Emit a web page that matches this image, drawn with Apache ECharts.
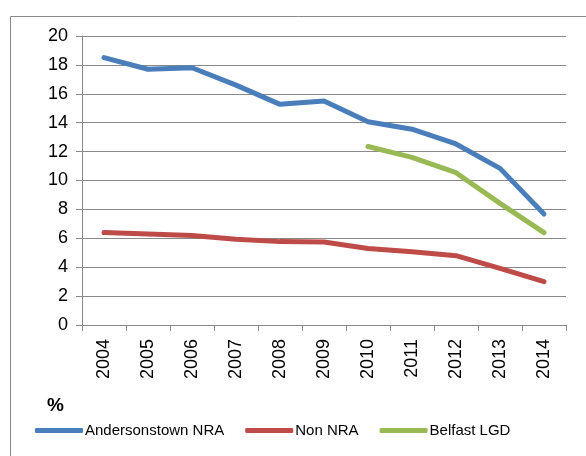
<!DOCTYPE html>
<html>
<head>
<meta charset="utf-8">
<script src="https://cdn.jsdelivr.net/npm/echarts@6/dist/echarts.min.js"></script>
<style>
html,body{margin:0;padding:0;background:#fff;}
#c{width:586px;height:456px;}
</style>
</head>
<body>
<div id="c"></div>
<script>
var years = ['2004','2005','2006','2007','2008','2009','2010','2011','2012','2013','2014'];
var andersonstown = [18.5, 17.7, 17.8, 16.6, 15.27, 15.5, 14.07, 13.55, 12.53, 10.84, 7.68];
var nonNRA = [6.4, 6.3, 6.2, 5.93, 5.77, 5.74, 5.3, 5.07, 4.8, 3.92, 3.0];
var belfastLGD = [null, null, null, null, null, null, 12.35, 11.6, 10.54, 8.42, 6.39];

var FONT = 'Liberation Sans';
var chart = echarts.init(document.getElementById('c'), null, {renderer:'canvas'});
function mk(name, data, color){
  return {
    name: name, type: 'line', data: data, symbol: 'none', connectNulls: false,
    lineStyle: {width: 5, color: color, cap: 'round', join: 'round'},
    itemStyle: {color: color},
    animation: false
  };
}
chart.setOption({
  animation: false,
  backgroundColor: '#fff',
  grid: {left: 82, right: 20, top: 36, bottom: 131, containLabel: false},
  xAxis: {
    type: 'category', data: years, boundaryGap: true,
    axisLine: {lineStyle: {color: '#888', width: 1}},
    axisTick: {show: true, length: 6, lineStyle: {color: '#888'}},
    axisLabel: {rotate: 90, margin: 14, color: '#000', fontFamily: FONT, fontSize: 18}
  },
  yAxis: {
    type: 'value', min: 0, max: 20, interval: 2,
    axisLine: {show: true, lineStyle: {color: '#888', width: 1}},
    axisTick: {show: true, length: 6, lineStyle: {color: '#888'}},
    axisLabel: {margin: 14, color: '#000', fontFamily: FONT, fontSize: 18},
    splitLine: {lineStyle: {color: '#888', width: 1}}
  },
  legend: {
    left: 30, top: 418, itemGap: 21, itemWidth: 48, itemHeight: 5,
    icon: 'roundRect',
    textStyle: {fontFamily: FONT, fontSize: 15, color: '#000', padding: [0,0,0,-3]},
    data: ['Andersonstown NRA', 'Non NRA', 'Belfast LGD']
  },
  graphic: [
    {type: 'rect', left: 8, top: 14, shape: {x: 0, y: 0, width: 620, height: 500},
     style: {fill: 'none', stroke: '#888', lineWidth: 1}, silent: true, z: -1},
    {type: 'text', left: 47, top: 396, style: {text: '%', fontFamily: FONT, fontSize: 19, fontWeight: 'bold', fill: '#000'}}
  ],
  series: [
    mk('Andersonstown NRA', andersonstown, '#4A7EBB'),
    mk('Non NRA', nonNRA, '#BE4B48'),
    mk('Belfast LGD', belfastLGD, '#98B954')
  ]
});
</script>
</body>
</html>
